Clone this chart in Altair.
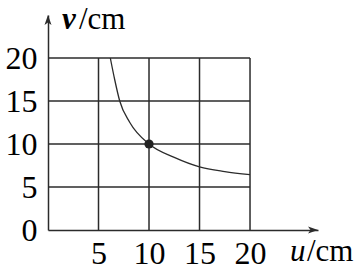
import altair as alt
import pandas as pd

# ---- data ----
u_ticks = [5, 10, 15, 20]
v_ticks = [0, 5, 10, 15, 20]
grid_u = [5, 10, 15, 20]
grid_v = [5, 10, 15, 20]
grid_max = 20
curve_u = [6.17, 6.6, 7.1, 8.1, 10, 12.5, 15, 17.5, 20]
curve_v = [20, 17.5, 15, 12.5, 10, 8.45, 7.35, 6.8, 6.43]
point_u = [10]
point_v = [10]
x_max = 26.73
y_max = 25.0

FONT = "Liberation Serif"
INK = "#2b2b2b"
FS = 32
TFS = 31

xs = alt.Scale(domain=[0, x_max], nice=False, zero=True)
ys = alt.Scale(domain=[0, y_max], nice=False, zero=True)

x_axis = alt.Axis(values=u_ticks, title=None, grid=False, ticks=False,
                  domainColor=INK, domainWidth=1.5, labelFont=FONT,
                  labelFontSize=FS, labelColor="black", labelPadding=8,
                  labelFlush=False, labelOverlap=False)
y_axis = alt.Axis(values=v_ticks, title=None, grid=False, ticks=False,
                  domainColor=INK, domainWidth=1.5, labelFont=FONT,
                  labelFontSize=FS, labelColor="black", labelPadding=11,
                  labelFlush=False, labelOverlap=False)


def X(field):
    return alt.X(field, type="quantitative", scale=xs, axis=x_axis)


def Y(field):
    return alt.Y(field, type="quantitative", scale=ys, axis=y_axis)


vgrid_df = pd.DataFrame({"u": grid_u, "v0": [0] * len(grid_u), "v1": [grid_max] * len(grid_u)})
hgrid_df = pd.DataFrame({"v": grid_v, "u0": [0] * len(grid_v), "u1": [grid_max] * len(grid_v)})
curve_df = pd.DataFrame({"u": curve_u, "v": curve_v})
point_df = pd.DataFrame({"u": point_u, "v": point_v})
xarrow_df = pd.DataFrame({"u": [x_max], "v": [0]})
yarrow_df = pd.DataFrame({"u": [0], "v": [y_max]})

vgrid = alt.Chart(vgrid_df).mark_rule(color=INK, strokeWidth=1.5).encode(
    x=X("u"), y=Y("v0"), y2="v1")
hgrid = alt.Chart(hgrid_df).mark_rule(color=INK, strokeWidth=1.5).encode(
    y=Y("v"), x=X("u0"), x2="u1")
curve = alt.Chart(curve_df).mark_line(color=INK, strokeWidth=1.3, interpolate="monotone").encode(
    x=X("u"), y=Y("v"))
dot = alt.Chart(point_df).mark_point(filled=True, color="#222", size=85, opacity=1).encode(
    x=X("u"), y=Y("v"))

arrow_right = "M0,0L-2,-0.7L-1.5,0L-2,0.7Z"
arrow_up = "M0,0L-0.7,2L0,1.5L0.7,2Z"
xarrow = alt.Chart(xarrow_df).mark_point(shape=arrow_right, filled=True, color=INK,
                                         size=100, opacity=1).encode(x=X("u"), y=Y("v"))
yarrow = alt.Chart(yarrow_df).mark_point(shape=arrow_up, filled=True, color=INK,
                                         size=100, opacity=1).encode(x=X("u"), y=Y("v"))

base_txt = alt.Chart(pd.DataFrame({"a": [0]}))
u_it = base_txt.mark_text(text="u", font=FONT, fontSize=TFS, fontStyle="italic",
                          align="left", baseline="alphabetic", color="black").encode(
    x=alt.value(242), y=alt.value(246))
u_cm = base_txt.mark_text(text="/cm", font=FONT, fontSize=TFS,
                          align="left", baseline="alphabetic", color="black").encode(
    x=alt.value(259), y=alt.value(246))
v_it = base_txt.mark_text(text="v", font=FONT, fontSize=TFS, fontStyle="italic",
                          fontWeight="bold", align="left", baseline="alphabetic",
                          color="black").encode(x=alt.value(14), y=alt.value(14))
v_cm = base_txt.mark_text(text="/cm", font=FONT, fontSize=TFS,
                          align="left", baseline="alphabetic", color="black").encode(
    x=alt.value(31), y=alt.value(14))

chart = alt.layer(vgrid, hgrid, curve, dot, xarrow, yarrow, u_it, u_cm, v_it, v_cm).properties(
    width=270, height=215,
    autosize=alt.AutoSizeParams(type="none"),
    padding={"left": 48, "top": 15, "right": 44, "bottom": 41},
    background="white",
).configure_view(stroke=None)

chart.save("out.html", embed_options={"renderer": "svg", "actions": False})
